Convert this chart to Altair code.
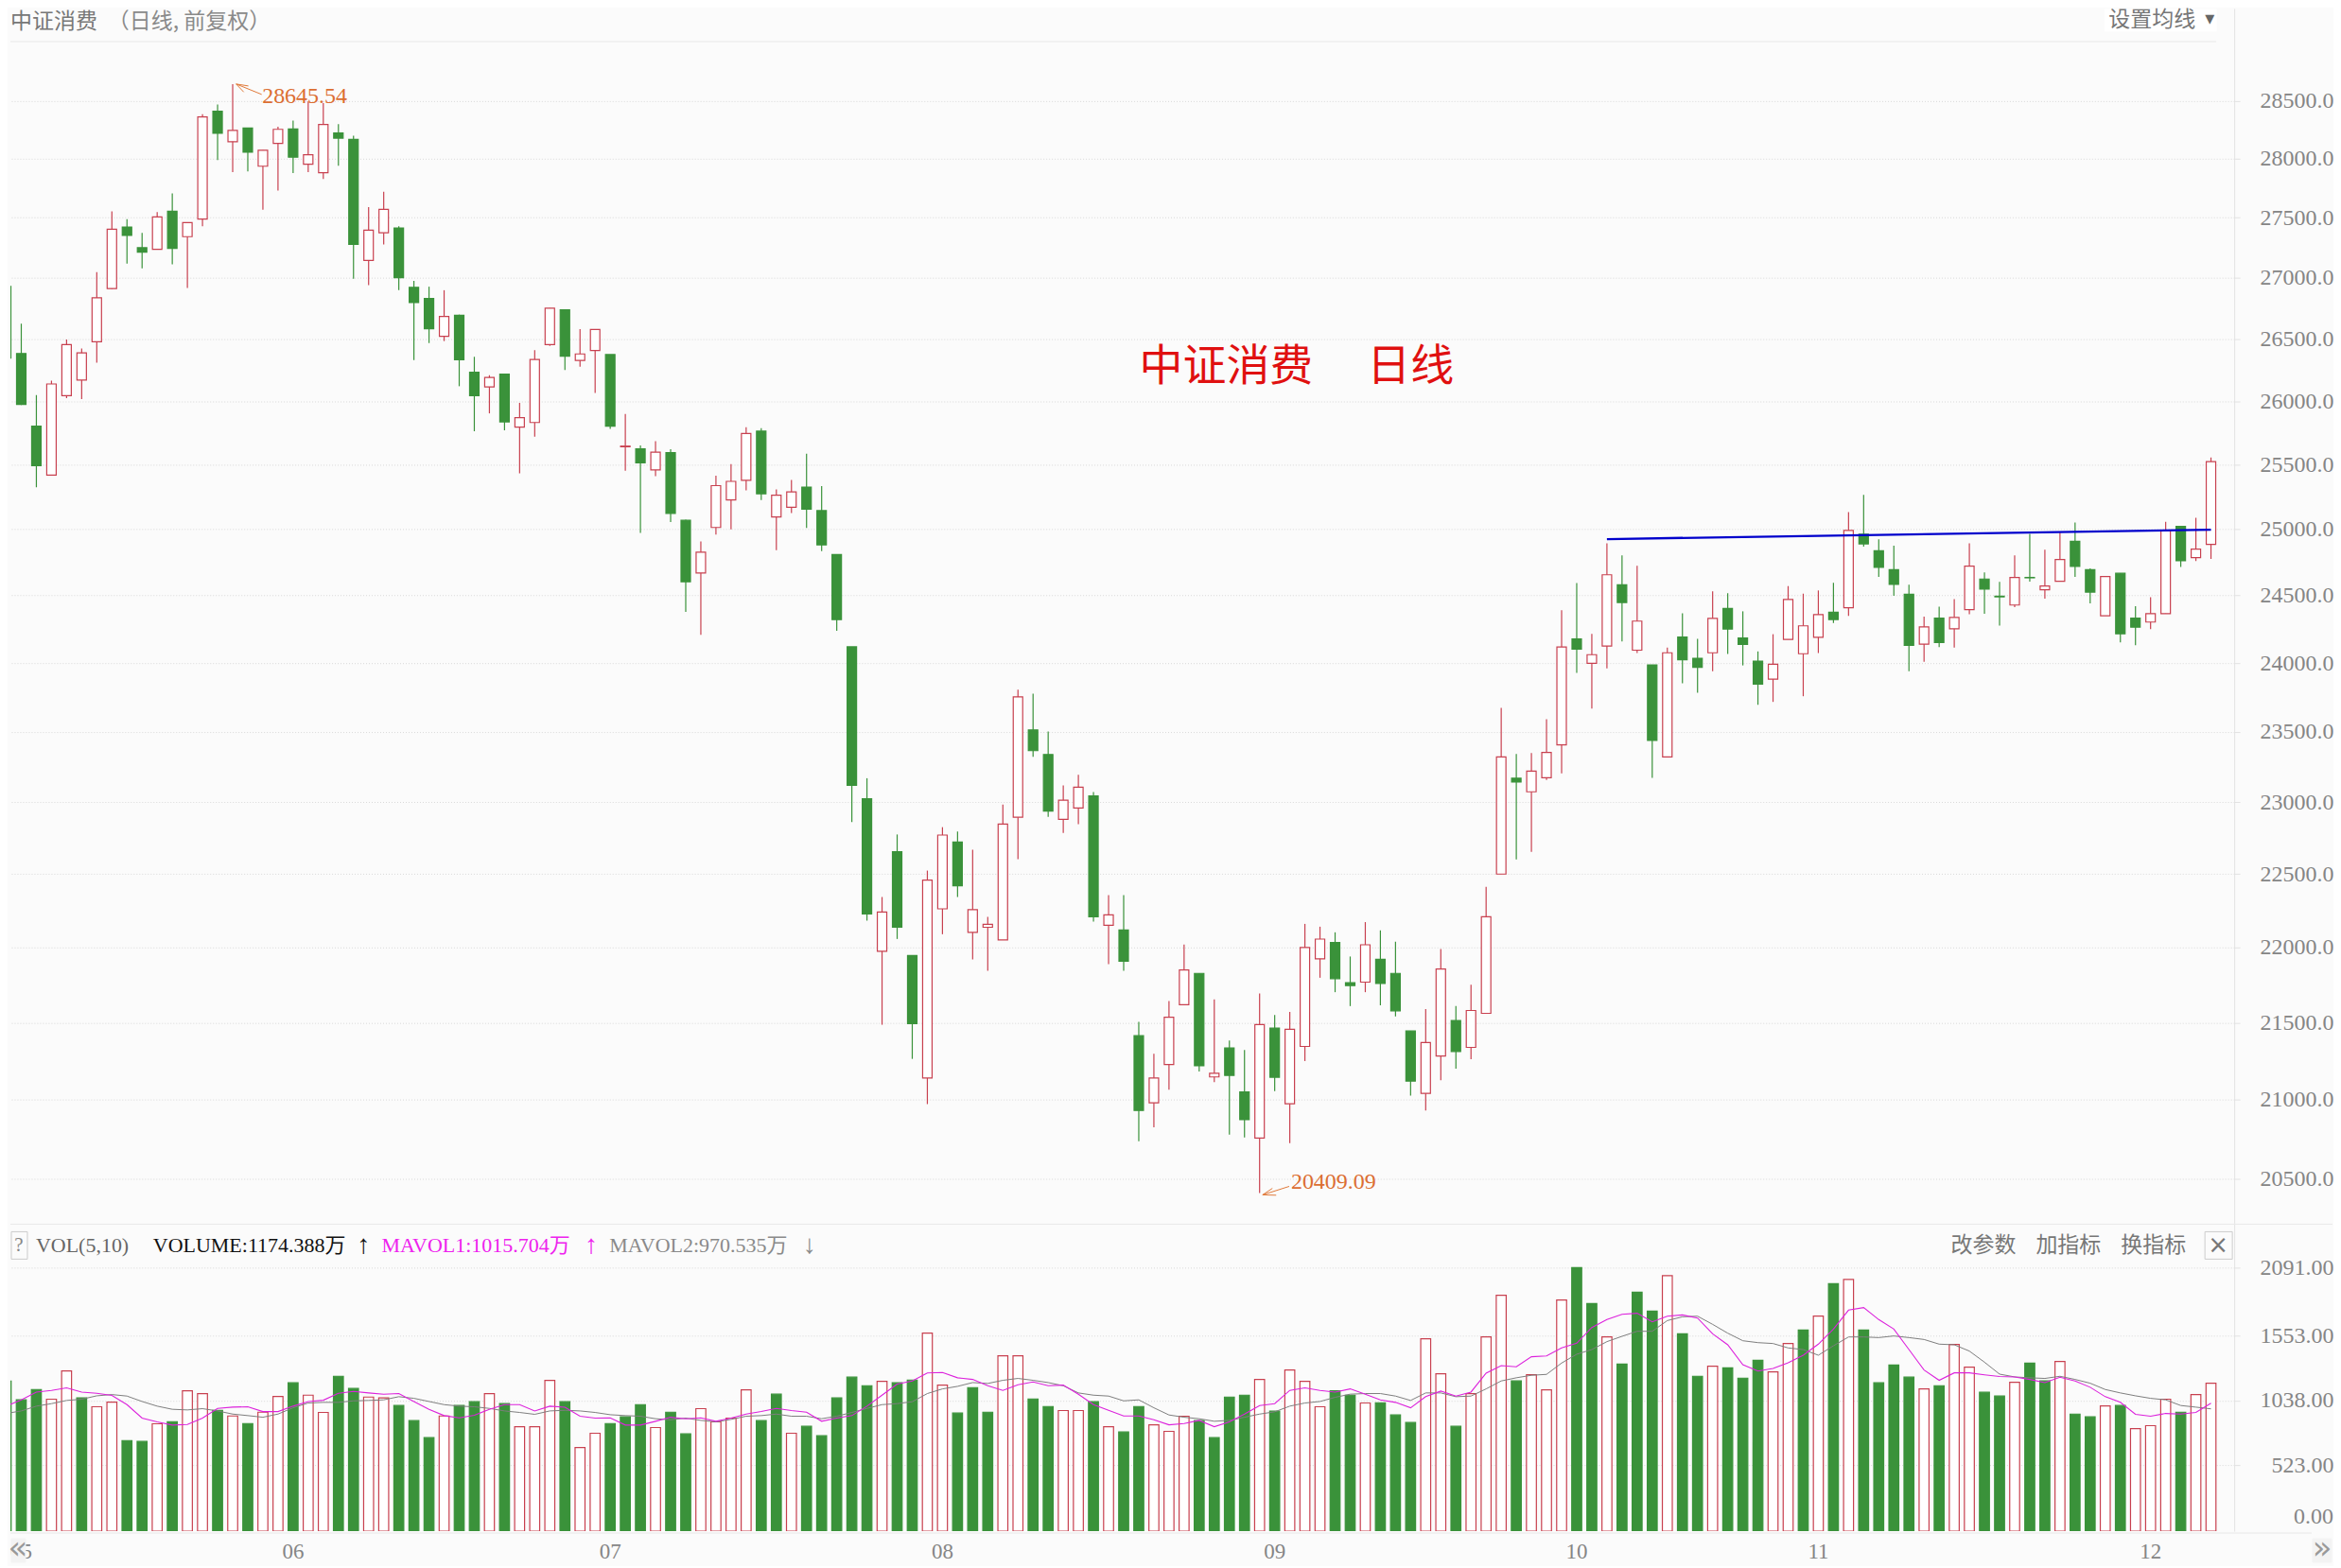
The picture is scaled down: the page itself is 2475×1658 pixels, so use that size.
import altair as alt
import pandas as pd

# daily candles
opens = [26929, 26381, 25803, 25419, 26044, 26168, 26477, 26911, 27422, 27249,
         27235, 27554, 27341, 27489, 28410, 28146, 28264, 27936, 28132, 28256,
         27953, 27880, 28222, 28166, 27143, 27373, 27414, 26921, 26829, 26521,
         26692, 26231, 26114, 26215, 25795, 25831, 26453, 26737, 26326, 26406,
         26373, 25640, 25624, 25459, 25594, 25070, 24669, 25015, 25226, 25378,
         25763, 25096, 25170, 25326, 25144, 24809, 24119, 23024, 21975, 22654,
         21946, 21140, 22262, 22722, 22102, 22137, 22051, 22894, 23514, 23338,
         22880, 22959, 23044, 22150, 22119, 21415, 20980, 21227, 21619, 21827,
         21147, 21335, 21050, 20755, 21465, 20974, 21345, 21925, 22034, 21765,
         21769, 21921, 21827, 21446, 21041, 21283, 21515, 21339, 21562, 22500,
         23169, 23073, 23173, 23407, 24177, 23998, 24125, 24581, 24094, 23986,
         23320, 24191, 24035, 24075, 24403, 24184, 24014, 23882, 24174, 24068,
         24189, 24375, 24408, 24964, 24838, 24695, 24509, 24139, 24332, 24252,
         24394, 24624, 24495, 24429, 24636, 24543, 24607, 24910, 24695, 24349,
         24667, 24332, 24302, 24365, 25024, 24786, 24886]
highs = [27022, 26624, 26049, 26163, 26495, 26422, 27046, 27554, 27487, 27373,
         27547, 27704, 27459, 28385, 28469, 28645.54, 28264, 28073, 28275, 28329,
         28495, 28481, 28298, 28197, 27589, 27718, 27427, 26974, 26926, 26897,
         26697, 26355, 26207, 26220, 25987, 26409, 26750, 26737, 26579, 26576,
         26373, 25898, 25650, 25684, 25620, 25074, 24908, 25415, 25504, 25793,
         25786, 25308, 25382, 25586, 25333, 24809, 24119, 23169, 22343, 22774,
         21946, 22524, 22825, 22795, 22668, 22208, 22983, 23805, 23776, 23503,
         23118, 23193, 23071, 22356, 22356, 21506, 21298, 21644, 22021, 21827,
         21654, 21384, 21322, 21694, 21552, 21571, 22160, 22141, 22103, 21940,
         22172, 22116, 22040, 21446, 21590, 21990, 21610, 21752, 22412, 23673,
         23342, 23349, 23591, 24391, 24594, 24215, 24895, 24802, 24724, 23986,
         24113, 24368, 24177, 24531, 24517, 24382, 24085, 24212, 24571, 24514,
         24538, 24595, 25133, 25265, 24924, 24876, 24581, 24342, 24417, 24474,
         24895, 24674, 24602, 24802, 24967, 24845, 24979, 25053, 24705, 24645,
         24667, 24420, 24488, 25058, 25024, 25090, 25556]
lows = [26233, 25969, 25325, 25419, 26023, 26016, 26308, 26908, 27116, 27078,
        27235, 27111, 26916, 27427, 27989, 27885, 27891, 27567, 27729, 27877,
        27885, 27827, 27941, 26992, 26939, 27276, 26897, 26329, 26466, 26482,
        26119, 25762, 25903, 25769, 25432, 25720, 26443, 26249, 26275, 26065,
        25780, 25452, 24974, 25411, 25056, 24378, 24208, 24960, 25000, 25300,
        25226, 24842, 25126, 25011, 24835, 24237, 22860, 22182, 21487, 22058,
        21264, 20972, 22090, 22343, 21921, 21844, 22051, 22603, 23321, 22897,
        22785, 22846, 22176, 21889, 21844, 20735, 20824, 21064, 21619, 21182,
        21114, 20777, 20759, 20409.09, 21056, 20723, 21250, 21798, 21702, 21610,
        21702, 21615, 21542, 21027, 20931, 21126, 21200, 21262, 21562, 22500,
        22601, 22654, 23156, 23204, 23927, 23668, 23961, 24158, 24073, 23171,
        23320, 23852, 23782, 23939, 24066, 23982, 23695, 23716, 24174, 23757,
        24073, 24295, 24347, 24869, 24640, 24498, 23939, 24009, 24116, 24113,
        24361, 24363, 24276, 24413, 24605, 24476, 24607, 24640, 24441, 24349,
        24151, 24130, 24250, 24365, 24714, 24760, 24776]
closes = [26345, 25974, 25492, 26137, 26453, 26386, 26834, 27403, 27351, 27211,
          27506, 27243, 27459, 28360, 28219, 28244, 28056, 28073, 28253, 28014,
          28034, 28295, 28177, 27276, 27395, 27570, 27000, 26795, 26582, 26682,
          26332, 26044, 26189, 25836, 25869, 26334, 26750, 26360, 26378, 26576,
          25802, 25645, 25515, 25598, 25123, 24603, 24827, 25337, 25370, 25744,
          25274, 25263, 25289, 25155, 24882, 24320, 23118, 22227, 22240, 22137,
          21494, 22458, 22770, 22420, 22256, 22157, 22846, 23752, 23365, 22938,
          23014, 23105, 22208, 22221, 21908, 20931, 21140, 21537, 21850, 21219,
          21171, 21157, 20872, 21488, 21145, 21457, 22000, 22057, 21792, 21746,
          22019, 21760, 21579, 21120, 21370, 21856, 21312, 21581, 22208, 23320,
          23142, 23220, 23353, 24118, 24101, 24061, 24656, 24448, 24309, 23438,
          24075, 24024, 23968, 24330, 24250, 24137, 23845, 23991, 24471, 24274,
          24358, 24321, 24993, 24890, 24712, 24583, 24130, 24266, 24151, 24337,
          24721, 24548, 24490, 24636, 24633, 24571, 24771, 24719, 24526, 24643,
          24215, 24264, 24365, 24990, 24762, 24850, 25524]

# volume in 万, colour flag for each bar (R hollow, G solid)
volumes = [1191, 1042, 1124, 1047, 1271, 1057, 987, 1024, 719, 712,
           852, 869, 1114, 1092, 959, 914, 854, 944, 1069, 1177,
           1079, 942, 1229, 1132, 1064, 1057, 997, 877, 742, 914,
           997, 1027, 1092, 1012, 829, 829, 1197, 1027, 664, 777,
           854, 907, 1004, 822, 944, 772, 972, 867, 897, 1122,
           877, 1087, 777, 832, 757, 1057, 1222, 1154, 1189, 1177,
           1199, 1571, 1159, 937, 1139, 944, 1391, 1391, 1049, 989,
           957, 957, 1027, 829, 787, 989, 844, 792, 912, 877,
           742, 1064, 1079, 1204, 952, 1279, 1189, 987, 1114, 1079,
           1017, 1019, 922, 862, 1526, 1249, 832, 1092, 1541, 1871,
           1192, 1242, 1122, 1834, 2091, 1806, 1541, 1326, 1896, 1746,
           2028, 1566, 1229, 1309, 1296, 1214, 1356, 1264, 1489, 1596,
           1706, 1963, 1998, 1596, 1177, 1319, 1222, 1129, 1154, 1481,
           1301, 1102, 1072, 1182, 1334, 1192, 1346, 929, 907, 994,
           997, 814, 837, 1047, 944, 1084, 1174.388]
vol_flags = ("GGGRRGRRGG" "RGRRGRGRRG" "RRGGRRGGGR" "GGRGRRRGRR"
             "GGGRGGRRRR" "GGRGGGGGRG" "GRRGGGRRGG" "RRGRGGRRRG"
             "GGGRGRRRGG" "RGGGRRGRRR" "GRRRGGRGGG" "RGGRGGGRRG"
             "RGRGGGGRGR" "RGGRGGRGGR" "GRRRGRR")

mavol1 = [992, 1042, 1104, 1117, 1137, 1104, 1094, 1077, 1004, 897,
          867, 842, 847, 897, 974, 984, 987, 949, 949, 992,
          1029, 1039, 1094, 1109, 1097, 1087, 1092, 1029, 967, 917,
          899, 919, 967, 1004, 1004, 954, 992, 984, 912, 897,
          899, 842, 842, 872, 904, 892, 899, 872, 897, 929,
          949, 974, 957, 944, 872, 897, 917, 992, 1079, 1167,
          1192, 1256, 1259, 1217, 1204, 1154, 1117, 1162, 1184, 1154,
          1159, 1087, 1004, 959, 914, 914, 884, 844, 854, 879,
          829, 867, 929, 997, 1012, 1117, 1137, 1117, 1104, 1129,
          1087, 1042, 1022, 979, 1067, 1112, 1072, 1104, 1254, 1314,
          1304, 1384, 1391, 1454, 1491, 1616, 1679, 1721, 1729, 1661,
          1706, 1716, 1691, 1566, 1479, 1321, 1271, 1291, 1336, 1396,
          1484, 1604, 1754, 1774, 1679, 1604, 1441, 1279, 1197, 1256,
          1256, 1241, 1227, 1224, 1204, 1179, 1222, 1192, 1142, 1067,
          1022, 927, 912, 934, 929, 942, 1015.704]
mavol2 = [934, 954, 992, 1012, 1037, 1047, 1074, 1084, 1072, 1029,
          992, 967, 962, 972, 954, 929, 917, 904, 929, 979,
          1017, 1022, 1022, 1034, 1037, 1042, 1067, 1054, 1029, 1004,
          992, 987, 974, 954, 942, 927, 954, 959, 954, 942,
          924, 917, 912, 892, 884, 897, 879, 867, 887, 912,
          917, 929, 912, 912, 892, 912, 942, 974, 1004, 1012,
          1027, 1092, 1129, 1149, 1179, 1172, 1197, 1212, 1197, 1179,
          1154, 1097, 1079, 1072, 1034, 1042, 979, 922, 904, 892,
          872, 879, 904, 929, 947, 992, 1017, 1029, 1062, 1087,
          1092, 1092, 1072, 1037, 1097, 1097, 1067, 1072, 1129, 1192,
          1217, 1237, 1244, 1334, 1404, 1441, 1504, 1546, 1586, 1586,
          1671, 1701, 1706, 1641, 1571, 1511, 1496, 1489, 1454, 1441,
          1396, 1471, 1541, 1541, 1536, 1549, 1536, 1521, 1484, 1479,
          1429, 1341, 1246, 1224, 1217, 1212, 1229, 1204, 1174, 1124,
          1097, 1074, 1054, 1042, 997, 984, 970.535]

price_ticks = [28500, 28000, 27500, 27000, 26500, 26000, 25500, 25000, 24500,
               24000, 23500, 23000, 22500, 22000, 21500, 21000, 20500]
vol_ticks = [523, 1038, 1553, 2091]
month_idx = [0, 18, 39, 61, 83, 103, 119, 141]
month_names = ["05", "06", "07", "08", "09", "10", "11", "12"]

# hand drawn trend line, and the little arrows at the two extremes
trend_x = [106, 146]
trend_y = [24926, 24998]
arrow_x1 = [15.23, 15.23, 15.23, 83.2, 83.2, 83.2]
arrow_y1 = [28647, 28647, 28647, 20398, 20398, 20398]
arrow_x2 = [16.92, 16.04, 15.73, 84.96, 84.1, 83.85]
arrow_y2 = [28556, 28630, 28577, 20451, 20396, 20439]

RED = "#c8404f"
GREEN = "#3a923a"
BG = "#fbfbfb"
SERIF = "Liberation Serif, Noto Sans CJK SC"
CJK = "Noto Sans CJK SC"

n = len(closes)
df = pd.DataFrame({"i": range(n), "open": opens, "high": highs, "low": lows, "close": closes})
df["dir"] = ["up" if c >= o else "down" for o, c in zip(opens, closes)]
vol = pd.DataFrame({"i": range(n), "vol": volumes, "base": 0, "ma1": mavol1, "ma2": mavol2,
                    "dir": ["up" if f == "R" else "down" for f in vol_flags]})
one = pd.DataFrame({"a": [0]})

# padding=0 matters, bars on a continuous x get 5px of scale padding otherwise
x_scale = alt.Scale(domain=[0.28, 147.54], nice=False, zero=False, padding=0)
price_scale = alt.Scale(type="log", domain=[20222, 29316], nice=False)
vol_scale = alt.Scale(domain=[0, 2436], nice=False, zero=True)
stroke_scale = alt.Scale(domain=["up", "down"], range=[RED, GREEN])
fill_scale = alt.Scale(domain=["up", "down"], range=["#ffffff", GREEN])
x_none = alt.X("i:Q", scale=x_scale, axis=None)

axis_common = dict(orient="right", title=None, grid=True, gridDash=[1, 2], gridColor="#d8d8d8",
                   tickColor="#e2e2e2", tickSize=6, domainColor="#e2e2e2", labelColor="#858585",
                   labelFont=SERIF, labelFontSize=24, labelAlign="right", labelPadding=99,
                   labelOverlap=False, labelFlush=False)

TOP_H = 1286
VOL_H = 325
WIDTH = 2354


def text(s, px, py, top, size, color, font=CJK, align="left", **kw):
    # chrome text, placed in page pixels
    return alt.Chart(one).mark_text(text=s, font=font, fontSize=size, color=color, align=align,
                                    baseline="middle", **kw).encode(
        x=alt.value(px - 8), y=alt.value(py - top))


def box(x0, y0, x1, y1, top, fill, stroke):
    return alt.Chart(one).mark_rect(fill=fill, stroke=stroke, strokeWidth=1).encode(
        x=alt.value(x0 - 8), x2=alt.value(x1 - 8), y=alt.value(y0 - top), y2=alt.value(y1 - top))


def hline(x0, x1, py, top, color="#e8e8e8"):
    return alt.Chart(one).mark_rule(color=color, strokeWidth=1).encode(
        x=alt.value(x0 - 8), x2=alt.value(x1 - 8), y=alt.value(py - top))


# price panel
wicks = alt.Chart(df).mark_rule(strokeWidth=1.2, clip=True).encode(
    x=x_none,
    y=alt.Y("low:Q", scale=price_scale,
            axis=alt.Axis(values=price_ticks, format=".1f", **axis_common)),
    y2="high:Q",
    color=alt.Color("dir:N", scale=stroke_scale, legend=None),
)
bodies = alt.Chart(df).mark_bar(size=10, strokeWidth=1.2, clip=True, orient="vertical").encode(
    x=x_none,
    y=alt.Y("open:Q", scale=price_scale),
    y2="close:Q",
    fill=alt.Fill("dir:N", scale=fill_scale, legend=None),
    stroke=alt.Stroke("dir:N", scale=stroke_scale, legend=None),
)
trend = alt.Chart(pd.DataFrame({"i": trend_x, "p": trend_y})).mark_line(
    color="#0000cc", strokeWidth=2.4).encode(x=x_none, y=alt.Y("p:Q", scale=price_scale))
arrows = alt.Chart(pd.DataFrame({"x1": arrow_x1, "x2": arrow_x2, "y1": arrow_y1, "y2": arrow_y2})).mark_rule(
    color="#e0793a", strokeWidth=1).encode(
    x=alt.X("x1:Q", scale=x_scale, axis=None), x2="x2:Q",
    y=alt.Y("y1:Q", scale=price_scale), y2="y2:Q")
extremes = alt.Chart(pd.DataFrame({"i": [16.95, 85.08], "p": [28535, 20480], "t": ["28645.54", "20409.09"]})).mark_text(
    font=SERIF, fontSize=24, color="#dc6e32", align="left", baseline="middle").encode(
    x=x_none, y=alt.Y("p:Q", scale=price_scale), text="t:N")

price_panel = alt.layer(
    wicks, bodies, trend, arrows, extremes,
    hline(8, 2343, 43, 8),
    text("中证消费", 8, 22, 8, 23, "#777777"),
    text("（日线, 前复权）", 111, 22, 8, 23, "#8a8a8a"),
    box(2225, 9, 2343, 32, 8, "#ffffff", "#ffffff"),
    text("设置均线", 2229, 20, 8, 23, "#777777"),
    text("▾", 2331, 19, 8, 20, "#666666", font="DejaVu Sans"),
    text("中证消费", 1203, 387, 8, 46, "#e01010"),
    text("日线", 1444, 387, 8, 46, "#e01010"),
).properties(width=WIDTH, height=TOP_H)

# volume panel
vol_bars = alt.Chart(vol).mark_bar(size=10.5, strokeWidth=1.2, clip=True, orient="vertical").encode(
    x=alt.X("i:Q", scale=x_scale,
            axis=alt.Axis(values=month_idx[1:], labels=False, title=None, grid=False, domain=False,
                          tickColor="#dddddd", tickSize=5)),
    y=alt.Y("vol:Q", scale=vol_scale,
            axis=alt.Axis(values=vol_ticks, format=".2f", **axis_common)),
    y2="base:Q",
    fill=alt.Fill("dir:N", scale=fill_scale, legend=None),
    stroke=alt.Stroke("dir:N", scale=stroke_scale, legend=None),
)
ma2_line = alt.Chart(vol).mark_line(color="#7d7d7d", strokeWidth=1, clip=True).encode(
    x=x_none, y=alt.Y("ma2:Q", scale=vol_scale))
ma1_line = alt.Chart(vol).mark_line(color="#dc22dc", strokeWidth=1.1, clip=True).encode(
    x=x_none, y=alt.Y("ma1:Q", scale=vol_scale))
months = alt.Chart(pd.DataFrame({"i": month_idx, "t": month_names})).mark_text(
    font=SERIF, fontSize=23, color="#858585", dx=16, baseline="middle").encode(
    x=x_none, y=alt.value(347), text="t:N")

T2 = 1294
volume_panel = alt.layer(
    vol_bars, ma2_line, ma1_line, months,
    hline(8, 2466, 1294, T2),
    hline(8, 2444, 1621, T2),
    box(9, 1302, 26, 1331, T2, BG, "#cccccc"),
    text("?", 17, 1317, T2, 21, "#888888", font=SERIF, align="center"),
    text("VOL(5,10)", 35, 1317, T2, 22, "#666666", font=SERIF),
    text("VOLUME:1174.388万", 159, 1317, T2, 22, "#111111", font=SERIF),
    text("↑", 382, 1317, T2, 28, "#111111", font=SERIF, align="center"),
    text("MAVOL1:1015.704万", 401, 1317, T2, 22, "#ee22ee", font=SERIF),
    text("↑", 623, 1317, T2, 28, "#ee22ee", font=SERIF, align="center"),
    text("MAVOL2:970.535万", 642, 1317, T2, 22, "#8a8a8a", font=SERIF),
    text("↓", 854, 1317, T2, 28, "#8a8a8a", font=SERIF, align="center"),
    text("改参数", 2062, 1317, T2, 23, "#777777"),
    text("加指标", 2152, 1317, T2, 23, "#777777"),
    text("换指标", 2242, 1317, T2, 23, "#777777"),
    box(2331, 1302, 2360, 1331, T2, BG, "#cccccc"),
    text("×", 2345, 1317, T2, 26, "#777777", font="DejaVu Sans", align="center"),
    text("0.00", 2467, 1604, T2, 24, "#858585", font=SERIF, align="right"),
    box(9, 1627, 24, 1652, T2, "#f3f3f3", "#f3f3f3"),
    text("«", 16, 1638, T2, 34, "#999999", font="DejaVu Sans", align="center"),
    box(2445, 1627, 2465, 1652, T2, "#f3f3f3", "#f3f3f3"),
    text("»", 2455, 1638, T2, 34, "#999999", font="DejaVu Sans", align="center"),
).properties(width=WIDTH, height=VOL_H)

chart = alt.vconcat(price_panel, volume_panel, spacing=0).properties(
    padding=0, background=BG
).configure_view(stroke=None)

chart.save("out.html", embed_options={"renderer": "svg", "actions": False})
